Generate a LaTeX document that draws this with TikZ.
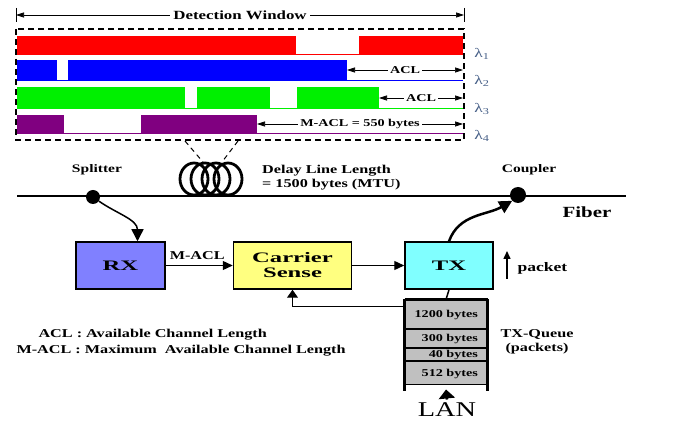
\documentclass[tikz,border=0pt]{standalone}
\usepackage{fontspec}
\setmainfont{Liberation Serif}[FakeStretch=1.35]
\newfontfamily\boxfont{Liberation Serif}[FakeStretch=1.7]
\usetikzlibrary{arrows.meta,positioning,calc}

\definecolor{rxblue}{RGB}{128,128,255}
\definecolor{csyellow}{RGB}{255,255,128}
\definecolor{txcyan}{RGB}{128,255,255}
\definecolor{qgray}{RGB}{192,192,192}
\definecolor{chred}{RGB}{255,0,0}
\definecolor{chblue}{RGB}{0,0,255}
\definecolor{chgreen}{RGB}{0,240,0}
\definecolor{chpurple}{RGB}{128,0,128}
\definecolor{lamcol}{RGB}{70,95,135}

\tikzset{
  blk/.style={draw, line width=1.5pt, minimum height=47pt, font=\boxfont\bfseries\fontsize{14.5}{15}\selectfont, align=center},
  qcell/.style={draw, fill=qgray, line width=1pt, minimum width=82pt, text width=64pt,
    inner xsep=9pt, inner ysep=0pt, align=right, font=\bfseries\fontsize{10.5}{11}\selectfont},
  tag/.style={font=\bfseries\fontsize{12}{14}\selectfont, align=left},
  small/.style={font=\bfseries\fontsize{10.5}{12}\selectfont, fill=white, inner sep=2pt},
  lam/.style={text=lamcol, font=\fontsize{13}{13}\selectfont, inner sep=1pt},
  dim/.style={{Triangle[length=8pt,width=5pt]}-{Triangle[length=8pt,width=5pt]}, line width=0.7pt},
  sig/.style={-{Triangle[length=10pt,width=9pt]}, line width=1.3pt},
  dot/.style={circle, fill=black, inner sep=0pt, minimum size=14pt},
  coilring/.style={line width=2.8pt},
}

\begin{document}
\begin{tikzpicture}[x=1pt,y=1pt]
\useasboundingbox (0,0) rectangle (680,423);
% detection window
\draw[line width=1pt] (16,415) -- (16,401);
\draw[line width=1pt] (464,415) -- (464,401);
\draw[dim] (16,408) -- (464,408) node[midway, fill=white, tag, inner sep=3pt, font=\bfseries\fontsize{12.5}{14}\selectfont] (win) {Detection Window};
\draw[dash pattern=on 6pt off 4pt, line width=1.2pt] (16,394) rectangle (464,283);
% lambda 1
\draw[chred, line width=0.8pt] (17,369) -- (463,369);
\fill[chred] (17,387) rectangle (296,369);
\fill[chred] (359,387) rectangle (463,369);
\node[lam] (l1) at (482,369) {λ\textsubscript{1}};
% lambda 2
\draw[chblue, line width=0.8pt] (17,343) -- (463,343);
\fill[chblue] (17,363) rectangle (57,343);
\fill[chblue] (68,363) rectangle (347,343);
\draw[dim] (347,353) -- (463,353) node[midway, small] (acl2) {ACL};
\node[lam] (l2) at (482,342) {λ\textsubscript{2}};
% lambda 3
\draw[chgreen, line width=0.8pt] (17,315) -- (463,315);
\fill[chgreen] (17,336) rectangle (185,315);
\fill[chgreen] (197,336) rectangle (270,315);
\fill[chgreen] (297,336) rectangle (379,315);
\draw[dim] (379,325) -- (463,325) node[midway, small] (acl3) {ACL};
\node[lam] (l3) at (482,314) {λ\textsubscript{3}};
% lambda 4
\draw[chpurple, line width=0.8pt] (17,290) -- (463,290);
\fill[chpurple] (17,308) rectangle (64,290);
\fill[chpurple] (141,308) rectangle (257,290);
\draw[dim] (257,299) -- (463,299) node[midway, small] (macl4) {M-ACL = 550 bytes};
\node[lam] (l4) at (482,287) {λ\textsubscript{4}};

% delay line coil
\coordinate (winL) at (185,282);
\coordinate (winR) at (238,282);
\coordinate (coilL) at (203,261);
\coordinate (coilR) at (222,261);
\draw[dash pattern=on 5pt off 4pt, line width=1pt] (winL) -- (coilL);
\draw[dash pattern=on 5pt off 4pt, line width=1pt] (winR) -- (coilR);
\draw[coilring] (194,244) ellipse [x radius=14pt, y radius=16pt];
\draw[coilring] (205,244) ellipse [x radius=14pt, y radius=16pt];
\draw[coilring] (216,244) ellipse [x radius=14pt, y radius=16pt];
\draw[coilring] (228,244) ellipse [x radius=14pt, y radius=16pt];

% fiber
\coordinate (fibL) at (17,227);
\coordinate (fibR) at (626,227);
\draw[line width=2.5pt] (fibL) -- (fibR);
\node[dot] (split) at (93,226) {};
\node[dot, minimum size=16pt] (coup) at (518,228) {};
\node[tag, font=\bfseries\fontsize{11.5}{13}\selectfont] (splitlbl) at (97,253) {Splitter};
\node[tag, font=\bfseries\fontsize{11.5}{13}\selectfont] (couplbl) at (529,253) {Coupler};
\node[tag, anchor=west, inner sep=0pt] (delay) at (262,245) {Delay Line Length\\= 1500 bytes (MTU)};
\node[tag, font=\bfseries\fontsize{15.5}{17}\selectfont] (fiber) at (587,211) {Fiber};

% node chain
\node[blk, fill=rxblue, minimum width=89pt] (rx) at (120.5,157.5) {RX};
\node[blk, fill=csyellow, minimum width=118pt, right=67pt of rx] (cs) {Carrier\\Sense};
\node[blk, fill=txcyan, minimum width=88pt, right=52pt of cs] (tx) {TX};
\draw[sig] (rx) -- (cs) node[midway, above=2pt, tag, xshift=-2pt] (macl) {M-ACL};
\draw[sig] (cs) -- (tx);
\draw[-{Triangle[length=12pt,width=12pt]}, line width=1.5pt] (split) to[out=-35, in=90] ([xshift=17pt]rx.north);
\draw[-{Triangle[length=13pt,width=13pt]}, line width=2.5pt] (tx.north) to[out=70, in=-150] (coup.south west);

% packet
\node[tag, anchor=west, font=\bfseries\fontsize{13}{14}\selectfont] (packet) at (514,155) {packet};
\coordinate (pk1) at (507,144);
\coordinate (pk2) at (507,172);
\draw[-{Triangle[length=8pt,width=7pt]}, line width=1.5pt] (pk1) -- (pk2);

% tx queue
\node[qcell, minimum height=29pt] (q1) at (446,108.5) {1200 bytes};
\node[qcell, minimum height=18pt, below=0pt of q1] (q2) {300 bytes};
\node[qcell, minimum height=12pt, below=0pt of q2] (q3) {40 bytes};
\node[qcell, minimum height=23pt, below=0pt of q3] (q4) {512 bytes};
\draw[line width=2.2pt] (q1.north west) -- ([yshift=-6pt]q4.south west);
\draw[line width=2.2pt] (q1.north east) -- ([yshift=-6pt]q4.south east);
\draw[line width=2.2pt] (q1.north west) -- (q1.north east);
\draw[line width=1.5pt] (tx.south) -- (q1.north);
\draw[-{Triangle[length=8pt,width=11pt]}, line width=1pt] ([yshift=7.5pt]q1.west) -| (cs.south);
\node[tag, align=center] (qlbl) at (537,81) {TX-Queue\\(packets)};
\node[font=\fontsize{21}{22}\selectfont] (lan) at (447,13) {LAN};
\draw[-{Triangle[length=9pt,width=16pt]}, line width=2.5pt] (lan.north) -- ([yshift=-4pt]q4.south);

% legend
\node[tag, anchor=west] (leg1) at (35,88) {ACL : Available Channel Length};
\node[tag, anchor=west] (leg2) at (13,72) {M-ACL : Maximum\ \ Available Channel Length};
\end{tikzpicture}
\end{document}
